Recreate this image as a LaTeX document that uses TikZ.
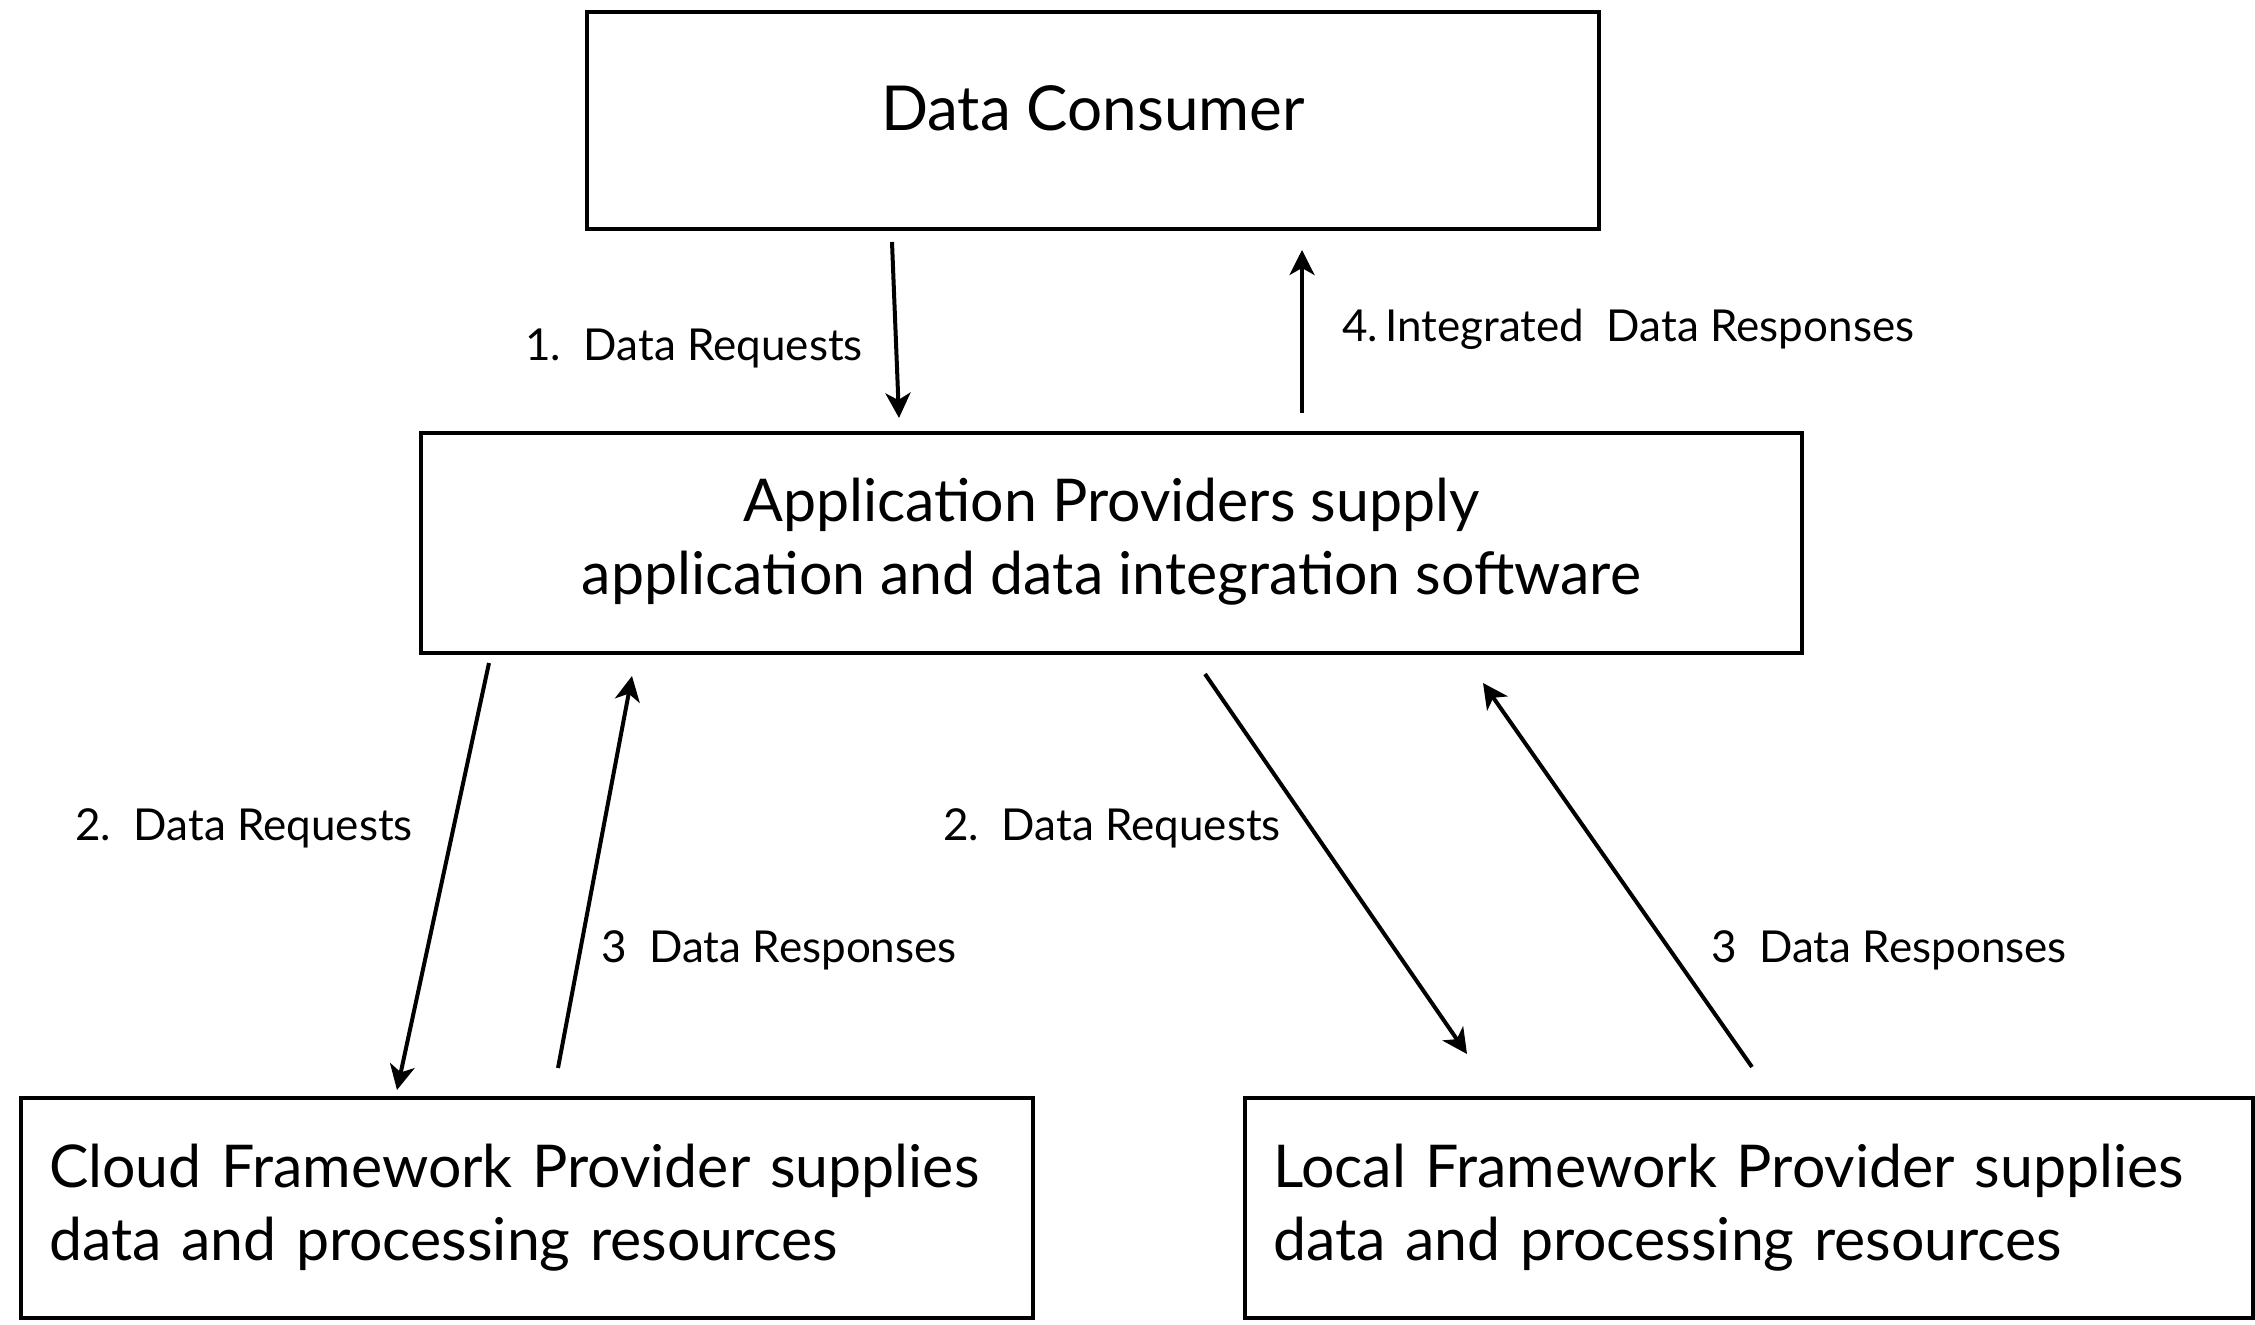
\documentclass[tikz,border=0pt]{standalone}
\usepackage{fontspec}
\setmainfont{Lato}
\usetikzlibrary{calc,arrows.meta}
\tikzset{
  box/.style={draw, line width=2.4pt, inner sep=0pt, outer sep=0pt, font=\fontsize{29.5}{36.5}\selectfont},
  arr/.style={line width=2pt, -{Stealth[length=12.5pt,width=12.5pt,inset=3.5pt]}},
  lbl/.style={inner sep=0pt, anchor=base west, font=\fontsize{22}{26}\selectfont}
}
\begin{document}
\begin{tikzpicture}[x=0.5pt,y=-0.5pt]
\useasboundingbox (0,0) rectangle (2255,1325);
\node[box, minimum width=506pt, minimum height=108.5pt, align=center, text depth=12pt, font=\fontsize{31}{37}\selectfont] (cons) at (1093,120.5) {Data Consumer};
\node[box, minimum width=690.5pt, minimum height=110pt, align=center] (app) at (1111.5,543) {Application Providers supply\\application and data integration software\\[-30pt]};
\node[box, minimum width=506pt, minimum height=110pt, text width=478pt, inner xsep=14pt, align=left] (cloud) at (527,1208) {Cloud Framework Provider supplies\\data and processing resources};
\node[box, minimum width=504pt, minimum height=110pt, text width=476pt, inner xsep=14pt, align=left] (local) at (1749,1208) {Local Framework Provider supplies\\data and processing resources};

\draw[arr] ($(cons.south west)+(305,13)$) -- ($(app.north west)+(478,-15)$);
\draw[arr] ($(app.north west)+(881,-20)$) -- ($(cons.south west)+(715,21)$);
\draw[arr] ($(app.south west)+(68,10)$) -- ($(cloud.north west)+(376,-8)$);
\draw[arr] ($(cloud.north west)+(537,-30)$) -- ($(app.south west)+(211,23)$);
\draw[arr] ($(app.south west)+(784,21)$) -- ($(local.north west)+(222,-44)$);
\draw[arr] ($(local.north west)+(507,-31)$) -- ($(app.south west)+(1062,30)$);

\node[lbl] (l1) at (525,361) {1.\ \ Data Requests};
\node[lbl] (l4) at (1342,342) {4.\,Integrated\ \ Data Responses};
\node[lbl] (l2a) at (75,841) {2.\ \ Data Requests};
\node[lbl] (l3a) at (601,963) {3\ \ Data Responses};
\node[lbl] (l2b) at (943,841) {2.\ \ Data Requests};
\node[lbl] (l3b) at (1711,963) {3\ \ Data Responses};
\end{tikzpicture}
\end{document}
